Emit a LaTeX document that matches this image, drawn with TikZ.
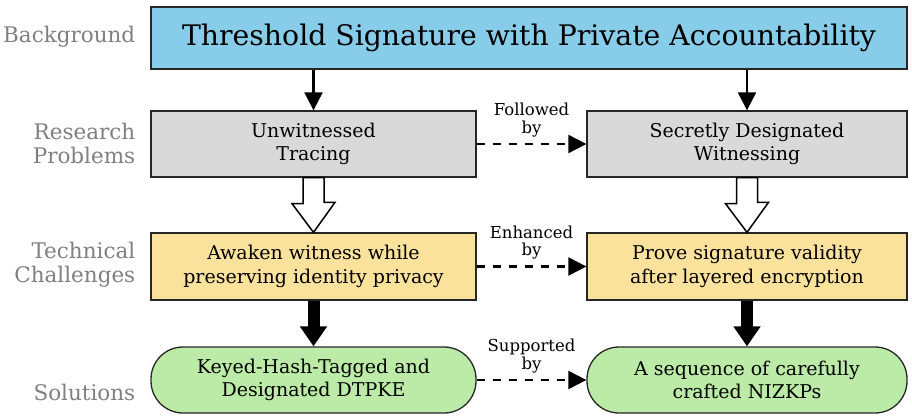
\documentclass[tikz,border=0pt]{standalone}
\usepackage{fontspec}
\setmainfont{DejaVu Serif}
\usetikzlibrary{arrows.meta,calc}

\definecolor{topblue}{RGB}{135,204,232}
\definecolor{probgray}{RGB}{217,217,217}
\definecolor{challyellow}{RGB}{251,226,156}
\definecolor{solgreen}{RGB}{187,235,166}
\definecolor{sidegray}{RGB}{128,128,128}

\begin{document}
\begin{tikzpicture}[x=1pt,y=-1pt,thick]
 	\useasboundingbox (0,0) rectangle (912,417);   %fixes the margins.
 	
 	% Define styles for boxes, side labels and connectors.
 	\tikzset{
 		box/.style={draw=black!85,line width=1.3pt,align=center,inner sep=0pt,
 			font=\fontsize{19}{23.5}\selectfont},
 		lcol/.style={box,minimum width=325,minimum height=66},
 		rcol/.style={box,minimum width=320,minimum height=66},
 		side/.style={anchor=east,align=right,text=sidegray,font=\fontsize{21.5}{24}\selectfont},
 		conn/.style={font=\fontsize{16.5}{17.5}\selectfont,align=center,inner sep=1pt},
 		thinarrow/.style={line width=2.1pt,-{Triangle[width=18pt,length=18pt]}},
 		dasharrow/.style={line width=2.1pt,dash pattern=on 8.5pt off 7.5pt,-{Triangle[width=18pt,length=18pt]}},
 		hollow/.style={draw=black,line width=1.5pt,fill=white,line join=miter},
 		blockarrow/.style={line width=12pt,-{Triangle[width=26pt,length=20pt]}}
 	}
 	
 	% Define column centres.
 	\def\lx{313.5}      %x of the left column.
 	\def\rx{747}        %x of the right column.
 	
 	% Boxes
 	\node[box,fill=topblue,minimum width=756,minimum height=62,font=\fontsize{28.3}{30}\selectfont] (top) at (529,38) {Threshold Signature with Private Accountability};
 	\node[lcol,fill=probgray] (prob1) at (\lx,144) {Unwitnessed\\Tracing};
 	\node[rcol,fill=probgray] (prob2) at (\rx,144) {Secretly Designated\\Witnessing};
 	\node[lcol,fill=challyellow,minimum height=67] (chal1) at (\lx,266.5) {Awaken witness while\\preserving identity privacy};
 	\node[rcol,fill=challyellow,minimum height=67] (chal2) at (\rx,266.5) {Prove signature validity\\after layered encryption};
 	\node[lcol,fill=solgreen,rounded corners=32pt] (sol1) at (\lx,380) {Keyed-Hash-Tagged and\\Designated DTPKE};
 	\node[rcol,fill=solgreen,rounded corners=32pt] (sol2) at (\rx,380) {A sequence of carefully\\crafted NIZKPs};
 	
 	% Side labels
 	\node[side] (bglbl) at (139,37) {Background};
 	\node[side] (problbl) at (139,143) {Research\\Problems};
 	\node[side] (challbl) at (139,265) {Technical\\Challenges};
 	\node[side] (sollbl) at (139,392) {Solutions};
 	
 	% Arrows from the background
 	\draw[thinarrow] (top.south -| prob1.north) -- (prob1.north);
 	\draw[thinarrow] (top.south -| prob2.north) -- (prob2.north);
 	
 	% Hollow arrows from problems to challenges
 	\draw[hollow] ([xshift=-10.5pt]prob1.south) -- ++(0,26) -- ++(-11,0) -- (chal1.north) -- ++(21.5,-30) -- ++(-11,0) -- ([xshift=10.5pt]prob1.south) -- cycle;
 	\draw[hollow] ([xshift=-10.5pt]prob2.south) -- ++(0,26) -- ++(-11,0) -- (chal2.north) -- ++(21.5,-30) -- ++(-11,0) -- ([xshift=10.5pt]prob2.south) -- cycle;
 	
 	% Black arrows from challenges to solutions
 	\draw[blockarrow] (chal1.south) -- (sol1.north);
 	\draw[blockarrow] (chal2.south) -- (sol2.north);
 	
 	% Dashed arrows with their labels
 	\draw[dasharrow] (prob1) -- node[conn,above=5pt] (flw) {Followed\\by} (prob2);
 	\draw[dasharrow] (chal1) -- node[conn,above=5pt] (enh) {Enhanced\\by} (chal2);
 	\draw[dasharrow] (sol1) -- node[conn,above=5pt] (sup) {Supported\\by} (sol2);
\end{tikzpicture}
\end{document}
